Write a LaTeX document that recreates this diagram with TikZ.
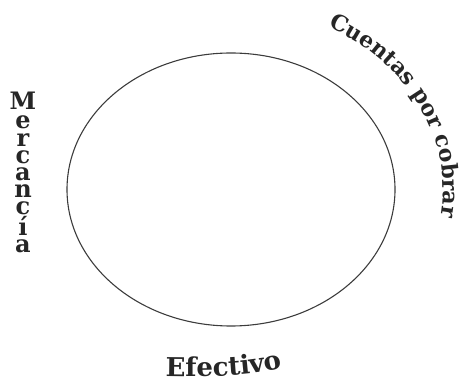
\documentclass[tikz,border=0pt]{standalone}
\usepackage{fontspec}
\setmainfont{DejaVu Serif}
\usetikzlibrary{decorations.text}
\definecolor{ink}{HTML}{262626}
\definecolor{ringcol}{HTML}{3C3C3C}
\tikzset{
  ring/.style={draw=ringcol, line width=1.1pt},
  vlabel/.style={inner sep=0pt, align=center, text=ink, font=\fontsize{24}{17.2}\selectfont\bfseries},
}
\begin{document}
\begin{tikzpicture}[x=1pt,y=1pt]
\useasboundingbox (0,0) rectangle (463,385);
\coordinate (c) at (231,195.5);
\draw[ring] (c) ellipse [x radius=164, y radius=136.5];
\node[vlabel, anchor=north] (merc) at (23,293) {M\\[2pt]e\\r\\c\\a\\n\\c\\í\\a};
\path[decorate, decoration={text along path,
  text={|\fontsize{22}{22}\selectfont\bfseries\color{ink}|Cuentas por cobrar}, text align=center}]
  (c) ++(65:212 and 183) arc[start angle=65, end angle=-11, x radius=212, y radius=183];
\path[decorate, decoration={text along path,
  text={|\fontsize{26}{26}\selectfont\bfseries\color{ink}|Efectivo}, text align=center}]
  (156,9) .. controls (210,8) and (250,8) .. (292,19);
\end{tikzpicture}
\end{document}
